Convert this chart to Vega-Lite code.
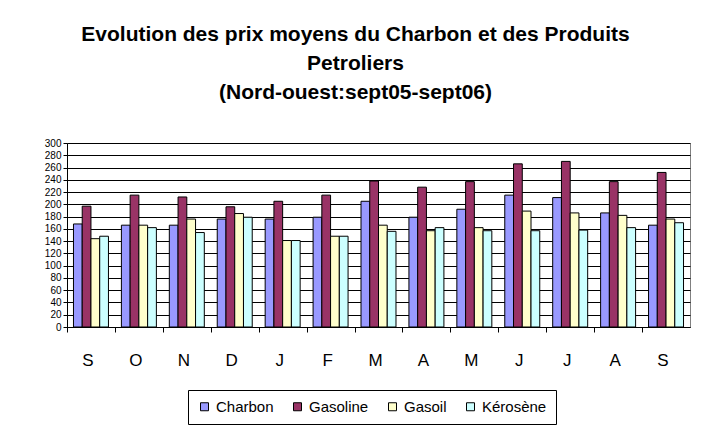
{
  "$schema": "https://vega.github.io/schema/vega-lite/v6.json",
  "width": 623,
  "height": 184,
  "autosize": "none",
  "padding": {"left": 67, "top": 143, "right": 19, "bottom": 105},
  "background": "white",
  "config": {
    "font": "Liberation Sans",
    "view": {"stroke": "#808080", "strokeWidth": 1}
  },
  "title": {
    "text": ["Evolution des prix moyens du Charbon et des Produits", "Petroliers", "(Nord-ouest:sept05-sept06)"],
    "font": "Liberation Sans",
    "fontSize": 21,
    "fontWeight": "bold",
    "color": "black",
    "lineHeight": 29,
    "anchor": "middle",
    "dx": -23,
    "offset": 35
  },
  "data": {
    "values": [
      {"mois": "sept05", "produit": "Charbon", "prix": 168},
      {"mois": "sept05", "produit": "Gasoline", "prix": 197},
      {"mois": "sept05", "produit": "Gasoil", "prix": 144},
      {"mois": "sept05", "produit": "Kérosène", "prix": 148},
      {"mois": "oct05", "produit": "Charbon", "prix": 166},
      {"mois": "oct05", "produit": "Gasoline", "prix": 215},
      {"mois": "oct05", "produit": "Gasoil", "prix": 166},
      {"mois": "oct05", "produit": "Kérosène", "prix": 162},
      {"mois": "nov05", "produit": "Charbon", "prix": 166},
      {"mois": "nov05", "produit": "Gasoline", "prix": 212},
      {"mois": "nov05", "produit": "Gasoil", "prix": 176},
      {"mois": "nov05", "produit": "Kérosène", "prix": 154},
      {"mois": "dec05", "produit": "Charbon", "prix": 176},
      {"mois": "dec05", "produit": "Gasoline", "prix": 196},
      {"mois": "dec05", "produit": "Gasoil", "prix": 185},
      {"mois": "dec05", "produit": "Kérosène", "prix": 179},
      {"mois": "janv06", "produit": "Charbon", "prix": 176},
      {"mois": "janv06", "produit": "Gasoline", "prix": 205},
      {"mois": "janv06", "produit": "Gasoil", "prix": 141},
      {"mois": "janv06", "produit": "Kérosène", "prix": 141},
      {"mois": "fevr06", "produit": "Charbon", "prix": 179},
      {"mois": "fevr06", "produit": "Gasoline", "prix": 215},
      {"mois": "fevr06", "produit": "Gasoil", "prix": 148},
      {"mois": "fevr06", "produit": "Kérosène", "prix": 148},
      {"mois": "mars06", "produit": "Charbon", "prix": 205},
      {"mois": "mars06", "produit": "Gasoline", "prix": 238},
      {"mois": "mars06", "produit": "Gasoil", "prix": 166},
      {"mois": "mars06", "produit": "Kérosène", "prix": 156},
      {"mois": "avr06", "produit": "Charbon", "prix": 179},
      {"mois": "avr06", "produit": "Gasoline", "prix": 228},
      {"mois": "avr06", "produit": "Gasoil", "prix": 157},
      {"mois": "avr06", "produit": "Kérosène", "prix": 162},
      {"mois": "mai06", "produit": "Charbon", "prix": 192},
      {"mois": "mai06", "produit": "Gasoline", "prix": 237},
      {"mois": "mai06", "produit": "Gasoil", "prix": 162},
      {"mois": "mai06", "produit": "Kérosène", "prix": 157},
      {"mois": "juin06", "produit": "Charbon", "prix": 215},
      {"mois": "juin06", "produit": "Gasoline", "prix": 266},
      {"mois": "juin06", "produit": "Gasoil", "prix": 189},
      {"mois": "juin06", "produit": "Kérosène", "prix": 157},
      {"mois": "juil06", "produit": "Charbon", "prix": 211},
      {"mois": "juil06", "produit": "Gasoline", "prix": 270},
      {"mois": "juil06", "produit": "Gasoil", "prix": 186},
      {"mois": "juil06", "produit": "Kérosène", "prix": 158},
      {"mois": "aout06", "produit": "Charbon", "prix": 186},
      {"mois": "aout06", "produit": "Gasoline", "prix": 237},
      {"mois": "aout06", "produit": "Gasoil", "prix": 182},
      {"mois": "aout06", "produit": "Kérosène", "prix": 162},
      {"mois": "sept06", "produit": "Charbon", "prix": 166},
      {"mois": "sept06", "produit": "Gasoline", "prix": 252},
      {"mois": "sept06", "produit": "Gasoil", "prix": 176},
      {"mois": "sept06", "produit": "Kérosène", "prix": 170}
    ]
  },
  "mark": {"type": "bar", "stroke": "black", "strokeWidth": 1},
  "encoding": {
    "x": {
      "field": "mois",
      "type": "nominal",
      "sort": null,
      "scale": {"paddingInner": 0.27, "paddingOuter": 0.135},
      "axis": {
        "title": null,
        "labelAngle": 0,
        "labelExpr": "upper(slice(datum.value, 0, 1))",
        "labelFontSize": 17,
        "labelColor": "black",
        "labelPadding": 20,
        "bandPosition": 0,
        "tickOffset": -6.5,
        "labelOffset": 3,
        "tickSize": 5,
        "tickColor": "black",
        "domainColor": "black"
      }
    },
    "xOffset": {
      "field": "produit",
      "type": "nominal",
      "sort": ["Charbon", "Gasoline", "Gasoil", "Kérosène"],
      "scale": {"paddingInner": 0, "paddingOuter": 0}
    },
    "y": {
      "field": "prix",
      "type": "quantitative",
      "scale": {"domain": [0, 300], "nice": false},
      "axis": {
        "title": null,
        "values": [0, 20, 40, 60, 80, 100, 120, 140, 160, 180, 200, 220, 240, 260, 280, 300],
        "labelFontSize": 10,
        "labelColor": "black",
        "labelPadding": 2,
        "tickSize": 4,
        "tickColor": "black",
        "domainColor": "black",
        "grid": true,
        "gridColor": "black",
        "gridOpacity": 1
      }
    },
    "color": {
      "field": "produit",
      "type": "nominal",
      "sort": ["Charbon", "Gasoline", "Gasoil", "Kérosène"],
      "scale": {
        "domain": ["Charbon", "Gasoline", "Gasoil", "Kérosène"],
        "range": ["#9999FF", "#993366", "#FFFFCC", "#CCFFFF"]
      },
      "legend": {
        "title": null,
        "orient": "none",
        "legendX": 121,
        "legendY": 247,
        "direction": "horizontal",
        "strokeColor": "black",
        "padding": 9,
        "symbolType": "square",
        "symbolSize": 64,
        "symbolStrokeColor": "black",
        "symbolStrokeWidth": 1,
        "labelFontSize": 15,
        "labelColor": "black",
        "labelOffset": 4,
        "columnPadding": 16
      }
    }
  }
}
